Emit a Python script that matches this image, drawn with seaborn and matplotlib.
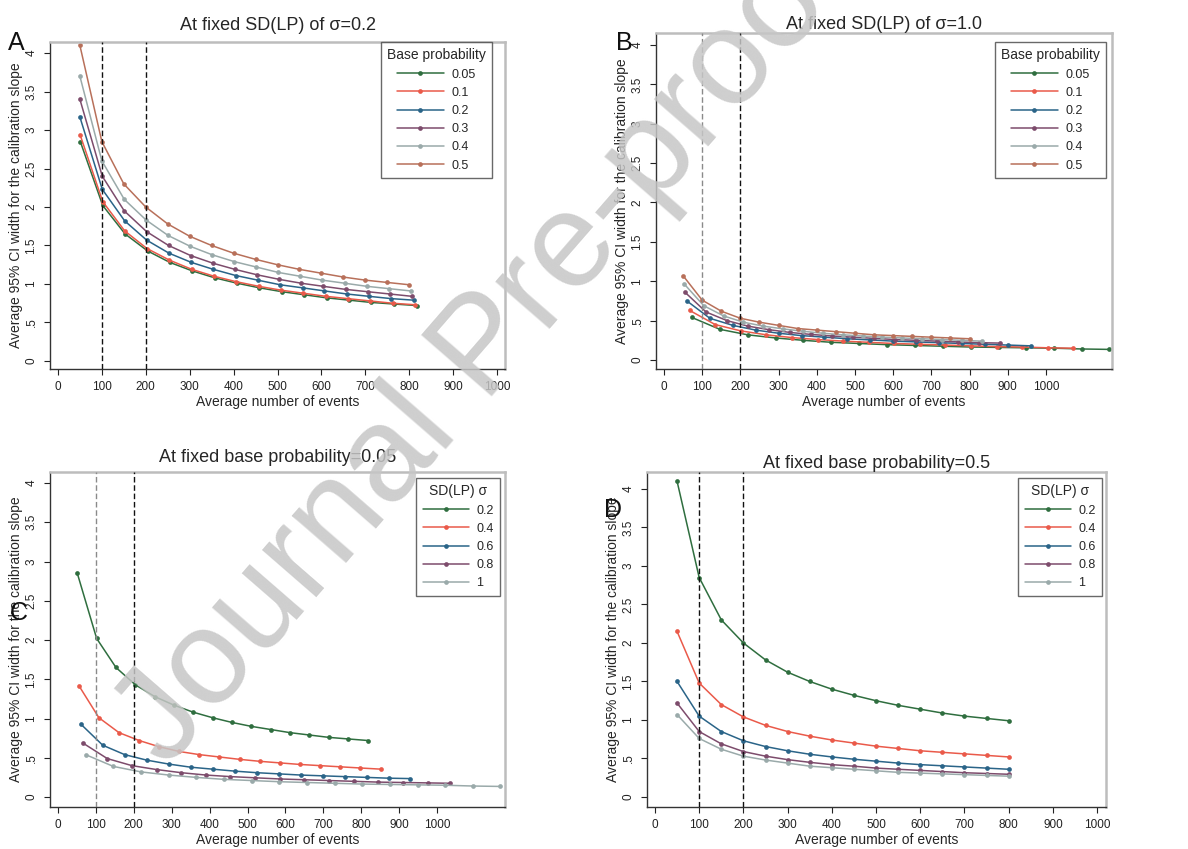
import matplotlib
matplotlib.use("Agg")
import matplotlib.pyplot as plt
from matplotlib.lines import Line2D
import numpy as np
import pandas as pd
import seaborn as sns

# ---------------- data ----------------
x_ticks = [0, 100, 200, 300, 400, 500, 600, 700, 800, 900, 1000]
y_ticks = [0, 0.5, 1, 1.5, 2, 2.5, 3, 3.5, 4]
y_tick_labels = ["0", ".5", "1", "1.5", "2", "2.5", "3", "3.5", "4"]

base_probs = ["0.05", "0.1", "0.2", "0.3", "0.4", "0.5"]
sd_lps = ["0.2", "0.4", "0.6", "0.8", "1"]

# Panel A: sigma = 0.2, by base probability
a_x_005 = [51, 102, 153, 204, 255, 306, 357, 408, 459, 510, 561, 612, 663, 714, 765, 817]
a_y_005 = [2.85, 2.02, 1.65, 1.43, 1.28, 1.17, 1.08, 1.01, 0.95, 0.90, 0.86, 0.82, 0.79, 0.76, 0.74, 0.72]
a_x_01 = [51, 102, 152, 203, 254, 305, 356, 406, 457, 508, 559, 610, 660, 711, 762, 814]
a_y_01 = [2.93, 2.07, 1.69, 1.46, 1.31, 1.19, 1.10, 1.03, 0.97, 0.92, 0.88, 0.84, 0.81, 0.78, 0.75, 0.73]
a_x_02 = [50, 101, 152, 202, 253, 304, 354, 405, 455, 506, 557, 607, 658, 708, 759, 810]
a_y_02 = [3.17, 2.23, 1.82, 1.57, 1.40, 1.28, 1.19, 1.11, 1.05, 0.99, 0.95, 0.91, 0.87, 0.84, 0.81, 0.79]
a_x_03 = [50, 101, 151, 202, 252, 302, 353, 403, 453, 504, 554, 604, 655, 705, 756, 806]
a_y_03 = [3.40, 2.40, 1.95, 1.68, 1.50, 1.37, 1.27, 1.19, 1.12, 1.06, 1.01, 0.97, 0.93, 0.90, 0.87, 0.84]
a_x_04 = [50, 100, 151, 201, 251, 301, 351, 402, 452, 502, 552, 602, 653, 703, 753, 803]
a_y_04 = [3.70, 2.60, 2.10, 1.83, 1.63, 1.49, 1.38, 1.29, 1.22, 1.15, 1.10, 1.05, 1.01, 0.97, 0.94, 0.91]
a_x_05 = [50, 100, 150, 200, 250, 300, 350, 400, 450, 500, 550, 600, 650, 700, 750, 800]
a_y_05 = [4.10, 2.85, 2.30, 2.00, 1.78, 1.62, 1.50, 1.40, 1.32, 1.25, 1.19, 1.14, 1.09, 1.05, 1.02, 0.99]

# Panel B: sigma = 1.0, by base probability
b_x_005 = [73, 146, 219, 292, 365, 438, 511, 584, 657, 730, 803, 876, 949, 1022, 1095, 1165]
b_y_005 = [0.54, 0.39, 0.32, 0.28, 0.25, 0.225, 0.21, 0.195, 0.185, 0.175, 0.165, 0.16, 0.155, 0.15, 0.14, 0.135]
b_x_01 = [67, 134, 201, 268, 335, 402, 469, 536, 603, 670, 737, 804, 871, 938, 1005, 1072]
b_y_01 = [0.63, 0.45, 0.37, 0.32, 0.285, 0.26, 0.24, 0.225, 0.21, 0.20, 0.19, 0.18, 0.17, 0.165, 0.155, 0.15]
b_x_02 = [60, 120, 180, 240, 300, 360, 420, 480, 540, 600, 660, 720, 780, 840, 900, 960]
b_y_02 = [0.75, 0.53, 0.44, 0.38, 0.34, 0.31, 0.29, 0.27, 0.255, 0.24, 0.23, 0.22, 0.21, 0.20, 0.19, 0.18]
b_x_03 = [55, 110, 165, 220, 275, 330, 385, 440, 495, 550, 605, 660, 715, 770, 825, 880]
b_y_03 = [0.86, 0.61, 0.50, 0.43, 0.385, 0.35, 0.325, 0.305, 0.29, 0.275, 0.26, 0.25, 0.24, 0.23, 0.22, 0.215]
b_x_04 = [52, 104, 156, 208, 260, 312, 364, 416, 468, 520, 572, 624, 676, 728, 780, 832]
b_y_04 = [0.97, 0.69, 0.56, 0.48, 0.43, 0.395, 0.365, 0.34, 0.32, 0.305, 0.29, 0.28, 0.27, 0.26, 0.25, 0.24]
b_x_05 = [50, 100, 150, 200, 250, 300, 350, 400, 450, 500, 550, 600, 650, 700, 750, 800]
b_y_05 = [1.07, 0.76, 0.62, 0.53, 0.48, 0.44, 0.40, 0.38, 0.36, 0.34, 0.32, 0.31, 0.30, 0.29, 0.28, 0.27]

# Panel C: base probability = 0.05, by SD(LP)
c_x_02, c_y_02 = a_x_005, a_y_005
c_x_04 = [55, 108, 161, 214, 267, 320, 373, 426, 479, 532, 585, 638, 691, 744, 797, 852]
c_y_04 = [1.42, 1.01, 0.82, 0.72, 0.64, 0.58, 0.54, 0.51, 0.48, 0.455, 0.435, 0.415, 0.40, 0.385, 0.37, 0.355]
c_x_06 = [60, 118, 176, 234, 292, 350, 408, 466, 524, 582, 640, 698, 756, 814, 872, 928]
c_y_06 = [0.93, 0.66, 0.54, 0.47, 0.42, 0.38, 0.355, 0.33, 0.31, 0.295, 0.28, 0.27, 0.26, 0.25, 0.24, 0.235]
c_x_08 = [65, 130, 195, 260, 325, 390, 455, 520, 585, 650, 715, 780, 845, 910, 975, 1035]
c_y_08 = [0.69, 0.49, 0.40, 0.35, 0.31, 0.28, 0.26, 0.245, 0.23, 0.22, 0.21, 0.20, 0.19, 0.185, 0.18, 0.175]
c_x_10, c_y_10 = b_x_005, b_y_005

# Panel D: base probability = 0.5, by SD(LP)
d_x = [50, 100, 150, 200, 250, 300, 350, 400, 450, 500, 550, 600, 650, 700, 750, 800]
d_y_02 = a_y_05
d_y_04 = [2.15, 1.48, 1.20, 1.04, 0.93, 0.85, 0.79, 0.74, 0.70, 0.66, 0.63, 0.60, 0.58, 0.56, 0.54, 0.52]
d_y_06 = [1.50, 1.05, 0.85, 0.73, 0.655, 0.60, 0.555, 0.52, 0.49, 0.465, 0.44, 0.42, 0.405, 0.39, 0.375, 0.36]
d_y_08 = [1.22, 0.85, 0.69, 0.59, 0.53, 0.485, 0.45, 0.42, 0.40, 0.375, 0.36, 0.345, 0.33, 0.315, 0.305, 0.295]
d_y_10 = b_y_05

colors6 = ["#2f6e3f", "#ea5a4a", "#2a6488", "#7d4c6c", "#9aaaaa", "#b8705a"]
colors5 = colors6[:5]

# ---------------- style ----------------
sns.set_style("ticks")
plt.rcParams["font.family"] = ["Liberation Sans", "DejaVu Sans"]

W, H = 1188, 849
fig = plt.figure(figsize=(W / 100, H / 100), dpi=100)


def make_ax(l, r, t, b):
    return fig.add_axes([l / W, 1 - b / H, (r - l) / W, (b - t) / H])


def draw(ax, series, labels, colors, title, title_pad_px, leg_title, leg_rt,
         xlim, ylim, gray100):
    rows = []
    for lab, (xs, ys) in zip(labels, series):
        for x, y in zip(xs, ys):
            rows.append((lab, x, y))
    df = pd.DataFrame(rows, columns=["grp", "x", "y"])
    sns.lineplot(data=df, x="x", y="y", hue="grp", hue_order=labels,
                 palette=colors, marker="o", markersize=3.4, markeredgewidth=0,
                 linewidth=1.1, estimator=None, sort=False, ax=ax, legend=False)
    ax.axvline(100, color="#8a8a8a" if gray100 else "#111111", lw=1.0,
               ls=(0, (4, 2)), zorder=3)
    ax.axvline(200, color="#111111", lw=1.0, ls=(0, (4, 2)), zorder=3)
    ax.set_xlim(*xlim)
    ax.set_ylim(*ylim)
    ax.set_xticks(x_ticks)
    ax.set_yticks(y_ticks)
    ax.set_yticklabels(y_tick_labels, rotation=90, va="center")
    ax.tick_params(length=4, width=0.8, labelsize=8.5, pad=5, colors="#222222")
    ax.set_xlabel("Average number of events", fontsize=10, labelpad=1)
    ax.set_ylabel("Average 95% CI width for the calibration slope", fontsize=10,
                  labelpad=2)
    for s in ("left", "bottom"):
        ax.spines[s].set_color("#333333")
        ax.spines[s].set_linewidth(1.0)
    for s in ("top", "right"):
        ax.spines[s].set_color("#bdbdbd")
        ax.spines[s].set_linewidth(1.8)
    ax.set_title(title, fontsize=13, pad=title_pad_px * 0.72)
    handles = [Line2D([], [], color=c, lw=1.1, marker="o", markersize=3.4,
                      markeredgewidth=0) for c in colors]
    leg = ax.legend(handles, labels, title=leg_title, loc="upper right",
                    bbox_to_anchor=(leg_rt[0] / W, 1 - leg_rt[1] / H),
                    bbox_transform=fig.transFigure, borderaxespad=0,
                    frameon=True, fancybox=False, fontsize=9, title_fontsize=10,
                    handlelength=3.7, handletextpad=0.6, labelspacing=0.5,
                    borderpad=0.5)
    leg.get_frame().set_edgecolor("#444444")
    leg.get_frame().set_linewidth(1.0)


axA = make_ax(50, 505, 42, 369)
draw(axA,
     [(a_x_005, a_y_005), (a_x_01, a_y_01), (a_x_02, a_y_02),
      (a_x_03, a_y_03), (a_x_04, a_y_04), (a_x_05, a_y_05)],
     base_probs, colors6, "At fixed SD(LP) of σ=0.2", 12, "Base probability",
     (492, 42), (-18, 1018), (-0.104, 4.143), False)

axB = make_ax(656, 1112, 33, 369)
draw(axB,
     [(b_x_005, b_y_005), (b_x_01, b_y_01), (b_x_02, b_y_02),
      (b_x_03, b_y_03), (b_x_04, b_y_04), (b_x_05, b_y_05)],
     base_probs, colors6, "At fixed SD(LP) of σ=1.0", 3, "Base probability",
     (1106, 42), (-21, 1173), (-0.114, 4.152), True)

axC = make_ax(50, 505, 472, 807)
draw(axC,
     [(c_x_02, c_y_02), (c_x_04, c_y_04), (c_x_06, c_y_06),
      (c_x_08, c_y_08), (c_x_10, c_y_10)],
     sd_lps, colors5, "At fixed base probability=0.05", 10, "SD(LP) σ",
     (500, 478), (-21, 1179), (-0.127, 4.14), True)

axD = make_ax(647, 1106, 472, 807)
draw(axD,
     [(d_x, d_y_02), (d_x, d_y_04), (d_x, d_y_06), (d_x, d_y_08), (d_x, d_y_10)],
     sd_lps, colors5, "At fixed base probability=0.5", 4, "SD(LP) σ",
     (1102, 478), (-18, 1020), (-0.13, 4.22), False)

# panel letters
for letter, (px, py) in zip("ABCD", [(8, 50), (616, 50), (10, 620), (604, 517)]):
    fig.text(px / W, 1 - py / H, letter, fontsize=18, va="baseline", ha="left",
             color="#111111")

# watermark
fig.text(485 / W, 1 - 350 / H, "Journal Pre-proof", rotation=49,
         rotation_mode="anchor", ha="center", va="center", fontsize=98,
         color="#c6c6c6", alpha=0.85, zorder=100)

fig.savefig("out.png", dpi=100)
